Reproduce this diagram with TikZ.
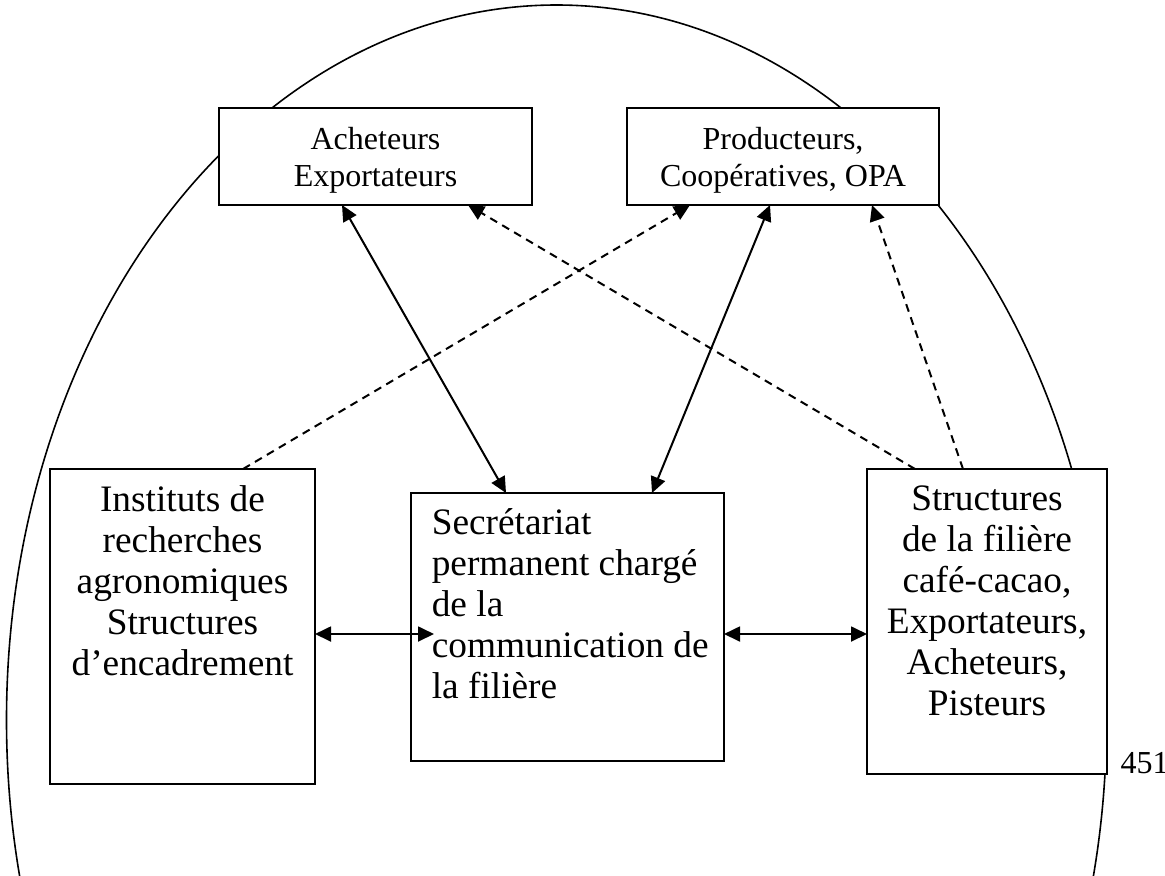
\documentclass[tikz,border=0pt]{standalone}
\usepackage{fontspec}
\setmainfont{Liberation Serif}
\usetikzlibrary{arrows.meta,fit}
\begin{document}
\begin{tikzpicture}[x=0.375pt,y=-0.375pt,
  box/.style={draw, fill=white, line width=0.8pt, inner sep=0pt},
  small/.style={inner sep=0pt, font=\fontsize{12}{13.9}\selectfont},
  big/.style={inner sep=0pt, font=\fontsize{14}{15.4}\selectfont},
  tip/.tip={Triangle[length=6pt,width=5.6pt]},
  link/.style={line width=0.75pt, tip-tip},
  hint/.style={line width=0.75pt, dash pattern=on 3pt off 2.2pt, -tip}]
\useasboundingbox (0,0) rectangle (1165,875);
% surrounding oval, cut by the page edge
\begin{scope}
  \clip (0,0) rectangle (1165,875);
  \draw[line width=0.6pt] (556.5,720) ellipse [x radius=550, y radius=715];
\end{scope}
% boxes
\node[box, fit={(219,108) (532,205)}] (buy) {};
\node[box, fit={(627,108) (939,205)}] (prod) {};
\node[box, fit={(50,469) (315,784)}] (inst) {};
\node[box, fit={(411,493) (724,761)}] (sec) {};
\node[box, fit={(867,469) (1107,774)}] (fil) {};
% texts
\node[small, align=center] (tbuy) at ([yshift=-1.3pt]buy.center) {Acheteurs\\Exportateurs};
\node[small, align=center] (tprod) at ([yshift=-1.3pt]prod.center) {Producteurs,\\Coopératives, OPA};
\node[big, align=center, anchor=north] (tinst) at ([yshift=-6.5pt]inst.north) {Instituts de\\recherches\\agronomiques\\Structures\\d’encadrement};
\node[big, align=left, anchor=north west] (tsec) at ([xshift=8pt,yshift=-6pt]sec.north west) {Secrétariat\\permanent chargé\\de la\\communication de\\la filière};
\node[big, align=center, anchor=north] (tfil) at ([yshift=-6.5pt]fil.north) {Structures\\de la filière\\café-cacao,\\Exportateurs,\\Acheteurs,\\Pisteurs};
\node[small, anchor=base west] (page) at (1120,773) {451};
% connector end points
\coordinate (b1) at (342,205);
\coordinate (b2) at (468,205);
\coordinate (p1) at (690,205);
\coordinate (p2) at (770,205);
\coordinate (p3) at (872,205);
\coordinate (s1) at (506,493);
\coordinate (s2) at (652,493);
\coordinate (i1) at (243,469);
\coordinate (f1) at (915,469);
\coordinate (f2) at (963,469);
\coordinate (il) at (315,634);
\coordinate (sl) at (434,634);
\coordinate (sr) at (724,634);
\coordinate (fl) at (867,634);
% connectors
\draw[link] (b1) -- (s1);
\draw[link] (p2) -- (s2);
\draw[hint] (i1) -- (p1);
\draw[hint] (f1) -- (b2);
\draw[hint] (f2) -- (p3);
\draw[link] (il) -- (sl);
\draw[link] (sr) -- (fl);
\end{tikzpicture}
\end{document}
